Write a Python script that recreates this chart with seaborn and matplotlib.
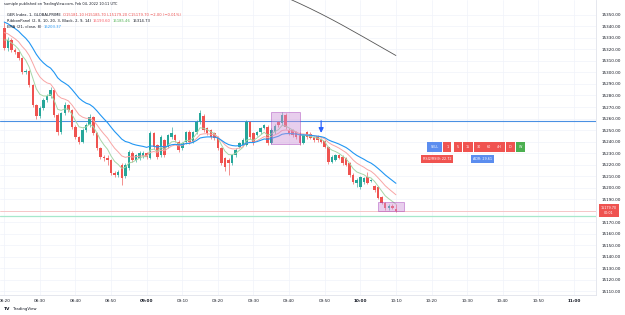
import numpy as np
import pandas as pd
import matplotlib
matplotlib.use("Agg")
import matplotlib.pyplot as plt
from matplotlib.patches import Rectangle
import seaborn as sns

# 1-minute bars starting 08:20
opens = [15338.6, 15321.2, 15328.1, 15319.5, 15317.7, 15312.5, 15300.4, 15301.2, 15289.1, 15271.7,
         15262.2, 15269.1, 15276.1, 15279.5, 15284.7, 15263.0, 15248.3, 15264.8, 15271.7, 15267.4,
         15252.6, 15243.9, 15239.6, 15250.0, 15254.4, 15261.3, 15247.4, 15234.4, 15226.6, 15225.7,
         15224.0, 15212.7, 15211.0, 15219.6, 15210.1, 15217.0, 15230.1, 15224.0, 15225.7, 15227.5,
         15230.1, 15225.7, 15247.4, 15237.0, 15228.3, 15241.3, 15235.3, 15243.9, 15245.7, 15239.6,
         15234.4, 15239.6, 15248.3, 15239.6, 15248.3, 15257.0, 15262.2, 15251.8, 15250.0, 15247.4,
         15243.9, 15234.4, 15225.7, 15224.0, 15221.4, 15228.3, 15235.3, 15237.0, 15237.0, 15257.0,
         15247.4, 15245.7, 15248.3, 15251.8, 15252.6, 15238.7, 15248.3, 15257.0, 15256.1, 15263.0,
         15250.0, 15250.0, 15248.3, 15247.4, 15238.7, 15248.3, 15246.5, 15243.9, 15245.0, 15242.2,
         15240.5, 15235.3, 15222.3, 15224.0, 15228.3, 15226.6, 15225.7, 15221.4, 15211.0, 15204.0,
         15200.5, 15204.9, 15209.2, 15205.7, 15201.4, 15200.5, 15191.9, 15186.7, 15182.3, 15184.0,
         15181.1]
highs = [15343.8, 15330.7, 15329.5, 15321.0, 15319.0, 15313.5, 15303.0, 15302.5, 15290.0, 15273.0,
         15271.0, 15278.0, 15281.5, 15287.0, 15286.0, 15264.5, 15266.0, 15274.5, 15273.0, 15268.5,
         15254.0, 15245.0, 15251.5, 15256.0, 15263.5, 15262.5, 15248.5, 15235.5, 15228.0, 15228.3,
         15225.0, 15214.5, 15215.0, 15221.0, 15221.0, 15232.5, 15231.5, 15229.5, 15231.5, 15232.0,
         15231.0, 15249.0, 15248.5, 15238.0, 15245.5, 15242.5, 15247.0, 15252.6, 15247.0, 15241.0,
         15240.0, 15249.5, 15250.0, 15249.5, 15258.5, 15267.4, 15264.0, 15253.0, 15251.0, 15248.5,
         15245.0, 15235.5, 15227.0, 15225.5, 15229.5, 15234.0, 15240.0, 15243.0, 15258.5, 15258.0,
         15248.5, 15249.5, 15253.0, 15255.5, 15254.0, 15251.5, 15255.0, 15258.0, 15265.6, 15264.5,
         15251.5, 15251.0, 15249.5, 15248.5, 15247.0, 15249.5, 15248.0, 15245.0, 15246.0, 15243.5,
         15241.5, 15236.5, 15228.0, 15229.5, 15229.5, 15228.0, 15227.0, 15222.5, 15212.5, 15208.0,
         15210.5, 15209.5, 15213.6, 15207.5, 15202.5, 15201.5, 15193.0, 15187.5, 15185.5, 15186.0,
         15185.7]
lows = [15319.5, 15319.0, 15317.5, 15315.8, 15311.0, 15299.0, 15298.5, 15287.5, 15270.0, 15259.5,
        15260.5, 15267.5, 15274.5, 15278.0, 15261.5, 15246.0, 15246.5, 15263.0, 15265.5, 15251.0,
        15242.0, 15237.5, 15238.5, 15248.5, 15253.0, 15245.5, 15233.0, 15224.5, 15223.5, 15219.6,
        15211.0, 15209.0, 15209.5, 15202.3, 15208.5, 15215.5, 15222.5, 15222.5, 15224.0, 15226.0,
        15225.0, 15224.5, 15233.5, 15224.5, 15227.0, 15226.5, 15234.0, 15242.5, 15239.5, 15231.0,
        15233.0, 15238.0, 15238.0, 15238.5, 15247.0, 15255.5, 15248.5, 15246.0, 15242.0, 15241.5,
        15233.0, 15219.5, 15214.5, 15211.0, 15220.0, 15227.0, 15234.0, 15236.0, 15236.0, 15242.5,
        15237.0, 15244.5, 15247.0, 15250.5, 15237.0, 15237.5, 15247.0, 15253.0, 15254.5, 15251.0,
        15246.0, 15244.0, 15242.5, 15237.0, 15237.5, 15242.5, 15242.0, 15240.0, 15240.0, 15238.5,
        15234.0, 15220.5, 15221.0, 15223.0, 15224.5, 15220.0, 15218.5, 15209.5, 15203.5, 15200.5,
        15199.0, 15203.5, 15203.0, 15204.5, 15196.5, 15190.0, 15185.5, 15181.0, 15181.0, 15181.5,
        15179.2]
closes = [15321.2, 15328.1, 15319.5, 15317.7, 15312.5, 15300.4, 15301.2, 15289.1, 15271.7, 15262.2,
          15269.1, 15276.1, 15279.5, 15284.7, 15263.0, 15248.3, 15264.8, 15271.7, 15267.4, 15252.6,
          15243.9, 15239.6, 15250.0, 15254.4, 15261.3, 15247.4, 15234.4, 15226.6, 15225.7, 15224.0,
          15212.7, 15211.0, 15213.6, 15208.4, 15219.6, 15230.9, 15224.0, 15228.3, 15230.1, 15230.1,
          15226.6, 15247.4, 15235.3, 15226.6, 15243.9, 15228.3, 15245.7, 15247.4, 15241.3, 15232.7,
          15238.7, 15248.3, 15239.6, 15248.3, 15257.0, 15264.8, 15250.0, 15247.4, 15243.9, 15243.1,
          15234.4, 15221.4, 15217.9, 15221.4, 15228.3, 15232.7, 15238.7, 15241.3, 15257.0, 15243.9,
          15238.7, 15248.3, 15251.8, 15254.4, 15238.7, 15250.0, 15253.5, 15254.4, 15263.0, 15252.6,
          15247.4, 15245.7, 15243.9, 15238.7, 15245.7, 15243.9, 15243.1, 15241.3, 15241.3, 15239.6,
          15235.3, 15222.3, 15226.6, 15228.3, 15225.7, 15221.4, 15219.6, 15211.0, 15204.9, 15206.6,
          15209.2, 15208.4, 15204.0, 15206.6, 15197.9, 15191.0, 15186.7, 15182.3, 15184.0, 15182.3,
          15179.7]

first_minute = 20  # 08:20

# indicator values at the first visible bar (lines come in from off-screen history)
ema_seed = 15346.0
ribbon_slow_seed = 15337.0
ribbon_fast_seed = 15331.0

# slow ribbon line (only visible at the top right)
slow_bars = [80, 83, 86, 89, 92, 95, 98, 101, 104, 107, 110]
slow_vals = [15364.0, 15359.8, 15355.4, 15350.8, 15346.0, 15341.0, 15335.8, 15330.6, 15325.3, 15320.0, 15314.7]

level_blue = 15258.0
level_mint = 15175.5

boxes = [(95.0, 103.2, 15238.0, 15265.6), (125.0, 132.2, 15179.6, 15187.4)]
arrow_bar = 89

mtf_texts = ["1", "5", "15", "30", "60", "4H", "D", "W"]
mtf_colors = ["#f05350", "#f05350", "#f05350", "#f05350", "#f05350", "#f05350", "#f05350", "#4caf50"]

hour_ticks = list(range(20, 190, 10))
y_ticks = list(range(15110, 15360, 10))

# ---------------------------------------------------------------------------
df = pd.DataFrame({"o": opens, "h": highs, "l": lows, "c": closes})
df["t"] = first_minute + np.arange(len(df))

def ema(values, span, seed):
    s = pd.Series([seed] + list(values))
    return s.ewm(span=span, adjust=False).mean().iloc[1:].to_numpy()

df["ema21"] = ema(df["c"], 21, ema_seed)
df["rib_slow"] = ema(df["c"], 12, ribbon_slow_seed)
df["rib_fast"] = ema(df["c"], 6, ribbon_fast_seed)

sns.set_theme(style="white")
plt.rcParams["font.family"] = ["DejaVu Sans"]

W, H = 625, 315
fig = plt.figure(figsize=(6.25, 3.15), dpi=100)
ax = fig.add_axes([0, 1 - 295 / H, 596 / W, 295 / H])
ax.set_xlim(18.8, 186.2)
ax.set_ylim(15106.8, 15362.9)

# grid
for t in hour_ticks:
    ax.axvline(t, color="#f0f3fa", lw=0.5, zorder=0)
for y in y_ticks:
    ax.axhline(y, color="#f0f3fa", lw=0.5, zorder=0)

# levels
ax.axhline(level_blue, color="#4a90e2", lw=0.8, zorder=1)
ax.axhline(level_mint, color="#a7e8cc", lw=0.9, zorder=1)
ax.axhline(df["c"].iloc[-1], color="#f7b3b3", lw=0.5, zorder=1)

# candles
up = df["c"] >= df["o"]
cols = np.where(up, "#26a69a", "#ef5350")
ax.vlines(df["t"], df["l"], df["h"], colors=cols, lw=0.45, zorder=3)
body = np.maximum((df["c"] - df["o"]).abs(), 0.35)
ax.bar(df["t"], body, bottom=np.minimum(df["o"], df["c"]), width=0.7,
       color=cols, linewidth=0, zorder=4)

# moving averages
sns.lineplot(data=df, x="t", y="rib_fast", ax=ax, color="#a5d6a7", lw=0.7, zorder=5)
sns.lineplot(data=df, x="t", y="rib_slow", ax=ax, color="#f8a5a5", lw=0.7, zorder=5)
sns.lineplot(data=df, x="t", y="ema21", ax=ax, color="#2196f3", lw=0.8, zorder=5)
sns.lineplot(x=[first_minute + b for b in slow_bars], y=slow_vals, ax=ax,
             color="#555555", lw=0.6, zorder=5)

# drawn rectangles
for x0, x1, y0, y1 in boxes:
    ax.add_patch(Rectangle((x0, y0), x1 - x0, y1 - y0, fc="#ce93d8", alpha=0.45,
                           ec="#9c27b0", lw=0.6, zorder=6))

# signal arrow
ta = first_minute + arrow_bar
ax.annotate("", xy=(ta, 15247.5), xytext=(ta, level_blue),
            arrowprops=dict(arrowstyle="-|>,head_width=0.35,head_length=0.7",
                            mutation_scale=4, color="#2962ff", lw=0.9,
                            shrinkA=0, shrinkB=0), zorder=7)

# multi-timeframe labels
ax.text(140.85, 15235.3, "SELL", ha="center", va="center", fontsize=2.4, color="white",
        bbox=dict(boxstyle="square,pad=0.9", fc="#5b8def", ec="none"), zorder=8)
for i, (txt, col) in enumerate(zip(mtf_texts, mtf_colors)):
    ax.text(144.4 + i * 2.95, 15235.3, txt, ha="center", va="center", fontsize=2.4,
            color="white", bbox=dict(boxstyle="square,pad=0.9", fc=col, ec="none"), zorder=8)
ax.text(141.6, 15225.3, "RSI2/RSI9: 22.72", ha="center", va="center", fontsize=2.4,
        color="white", bbox=dict(boxstyle="square,pad=0.6", fc="#f05350", ec="none"), zorder=8)
ax.text(154.2, 15225.3, "ADR: 29.61", ha="center", va="center", fontsize=2.4,
        color="white", bbox=dict(boxstyle="square,pad=0.6", fc="#5b8def", ec="none"), zorder=8)

# axes styling
ax.set_xlabel("")
ax.set_ylabel("")
ax.yaxis.tick_right()
ax.set_yticks(y_ticks)
# the 15180 label sits under the last-price tag
ax.set_yticklabels(["" if v == 15180 else f"{v:.2f}" for v in y_ticks])
ax.set_xticks(hour_ticks)
labels = [f"{(t // 60) + 8:02d}:{t % 60:02d}" for t in hour_ticks]
ax.set_xticklabels(labels)
ax.tick_params(axis="y", length=0, pad=4, labelsize=3, labelcolor="#131722")
ax.tick_params(axis="x", length=0, pad=3, labelsize=3, labelcolor="#131722")
for lab in ax.get_xticklabels():
    if lab.get_text().endswith(":00"):
        lab.set_fontweight("bold")
for side in ["top", "left"]:
    ax.spines[side].set_visible(False)
ax.spines["right"].set_color("#e0e3eb")
ax.spines["right"].set_linewidth(0.6)
ax.spines["bottom"].set_color("#e0e3eb")
ax.spines["bottom"].set_linewidth(0.6)

# last price tag
fig.text(609 / W, 1 - 210.5 / H, "15179.70\n00:01", ha="center", va="center", fontsize=2.4,
         color="white", linespacing=1.3,
         bbox=dict(boxstyle="square,pad=0.5", fc="#ef5350", ec="none"))

# header and legend text, pieces placed one after another
renderer = fig.canvas.get_renderer()

def chain(x, y, parts, size=2.7, **kw):
    for s, col in parts:
        t = fig.text(x / W, 1 - y / H, s, ha="left", va="center", fontsize=size, color=col, **kw)
        x = t.get_window_extent(renderer).x1 + 2

dark = "#131722"
chain(4, 4, [("sumiple published on TradingView.com, Feb 04, 2022 10:11 UTC", dark)], size=2.5)
chain(7, 14.5, [("GER Index, 1, GLOBALPRIME", dark),
                ("O15181.10 H15185.70 L15179.20 C15179.70 \u22122.00 (\u22120.01%)", "#ef5350")])
chain(7, 20.8, [("RibbonPanel (2, 8, 10, 20, 3, Black, 2, 9, 14)", dark),
                ("15193.60", "#f7525f"), ("15185.46", "#4caf50"), ("15314.73", dark)])
chain(7, 27, [("EMA (21, close, 8)", dark), ("15203.37", "#2196f3")])
chain(4, 309, [("TV", dark)], size=3.2, fontweight="bold")
chain(13, 309, [("TradingView", dark)], size=2.8)

fig.savefig("out.png", dpi=100)
